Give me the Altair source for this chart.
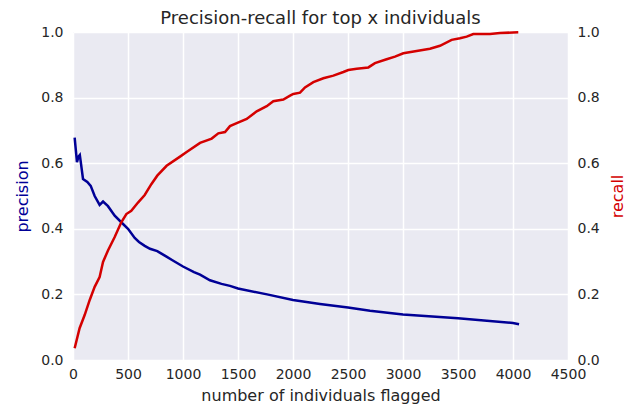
import altair as alt
import pandas as pd

# ---- data ----
prec_x = [15, 36, 50, 62, 72, 91, 130, 161, 197, 242, 273, 318, 379, 439, 500, 561,
          600, 652, 700, 766, 800, 850, 900, 950, 1000, 1100, 1155, 1245, 1350, 1427,
          1500, 1764, 2000, 2245, 2500, 2700, 3000, 3500, 4000, 4055]
prec_y = [0.678, 0.603, 0.62, 0.625, 0.60, 0.552, 0.543, 0.531, 0.50, 0.473, 0.483,
          0.469, 0.44, 0.42, 0.40, 0.372, 0.36, 0.348, 0.339, 0.332, 0.325, 0.315,
          0.305, 0.295, 0.285, 0.268, 0.26, 0.243, 0.232, 0.226, 0.218, 0.20, 0.183,
          0.171, 0.16, 0.15, 0.139, 0.127, 0.113, 0.109]

rec_x = [15, 60, 106, 152, 197, 242, 273, 318, 379, 439, 485, 530, 591, 652, 712, 766,
         851, 973, 1033, 1155, 1261, 1321, 1382, 1427, 1494, 1579, 1670, 1761, 1821,
         1912, 1973, 2003, 2064, 2109, 2185, 2276, 2367, 2458, 2503, 2579, 2685, 2745,
         2851, 2927, 3003, 3124, 3245, 3336, 3442, 3518, 3579, 3639, 3791, 3882, 4048]
rec_y = [0.036, 0.097, 0.137, 0.183, 0.223, 0.253, 0.299, 0.334, 0.375, 0.42, 0.445,
         0.455, 0.48, 0.503, 0.536, 0.562, 0.592, 0.62, 0.634, 0.662, 0.675, 0.691,
         0.695, 0.713, 0.723, 0.735, 0.758, 0.774, 0.789, 0.794, 0.806, 0.811, 0.815,
         0.831, 0.847, 0.859, 0.867, 0.878, 0.884, 0.888, 0.892, 0.905, 0.917, 0.925,
         0.935, 0.942, 0.949, 0.958, 0.976, 0.981, 0.986, 0.994, 0.994, 0.997, 0.999]

x_ticks = [0, 500, 1000, 1500, 2000, 2500, 3000, 3500, 4000, 4500]
y_ticks = [0.0, 0.2, 0.4, 0.6, 0.8, 1.0]

prec_df = pd.DataFrame({"n": prec_x, "precision": prec_y})
rec_df = pd.DataFrame({"n": rec_x, "recall": rec_y})

FONT = "DejaVu Sans"
TXT = "#262626"
BLUE = "#000096"
RED = "#d40000"
H = 328

xscale = alt.Scale(domain=[0, 4500], nice=False, zero=False)
yscale = alt.Scale(domain=[0, 1], nice=False)

xaxis = alt.Axis(values=x_ticks, format="d", title="number of individuals flagged",
                 grid=True, gridColor="white", gridWidth=1.5, domain=False, ticks=False,
                 labelFont=FONT, labelFontSize=14, labelColor=TXT, labelPadding=7,
                 labelFlush=False, labelOverlap=False,
                 titleFont=FONT, titleFontSize=16, titleFontWeight="normal",
                 titleColor=TXT, titleY=35, titleBaseline="middle")

left_axis = alt.Axis(orient="left", values=y_ticks, format=".1f", title="precision",
                     grid=True, gridColor="white", gridWidth=1.5, domain=False,
                     ticks=False, labelFont=FONT, labelFontSize=14, labelColor=TXT,
                     labelPadding=10, labelFlush=False, labelOverlap=False,
                     titleFont=FONT, titleFontSize=16, titleFontWeight="normal",
                     titleColor=BLUE, titleAngle=270, titleX=-51, titleY=H / 2,
                     titleBaseline="middle", titleAlign="center")

right_axis = alt.Axis(orient="right", values=y_ticks, format=".1f", title="recall",
                      grid=False, domain=False, ticks=False, labelFont=FONT,
                      labelFontSize=14, labelColor=TXT, labelPadding=9,
                      labelFlush=False, labelOverlap=False,
                      titleFont=FONT, titleFontSize=16, titleFontWeight="normal",
                      titleColor=RED, titleAngle=270, titleX=49, titleY=H / 2,
                      titleBaseline="middle", titleAlign="center")

prec = alt.Chart(prec_df).mark_line(color=BLUE, strokeWidth=2.5).encode(
    x=alt.X("n:Q", scale=xscale, axis=xaxis),
    y=alt.Y("precision:Q", scale=yscale, axis=left_axis),
)
rec = alt.Chart(rec_df).mark_line(color=RED, strokeWidth=2.5).encode(
    x=alt.X("n:Q", scale=xscale, axis=xaxis),
    y=alt.Y("recall:Q", scale=yscale, axis=right_axis),
)

chart = alt.layer(prec, rec).resolve_scale(y="independent").properties(
    width=495,
    height=H,
    autosize=alt.AutoSizeParams(type="none"),
    padding={"left": 65, "top": 24, "right": 57, "bottom": 44},
    background="white",
    title=alt.TitleParams("Precision-recall for top x individuals", font=FONT,
                          fontSize=18, fontWeight="normal", color=TXT,
                          anchor="middle", frame="group", offset=7, dy=10),
).configure_view(fill="#EAEAF2", strokeWidth=0)

chart.save("out.html", embed_options={"renderer": "svg", "actions": False})
